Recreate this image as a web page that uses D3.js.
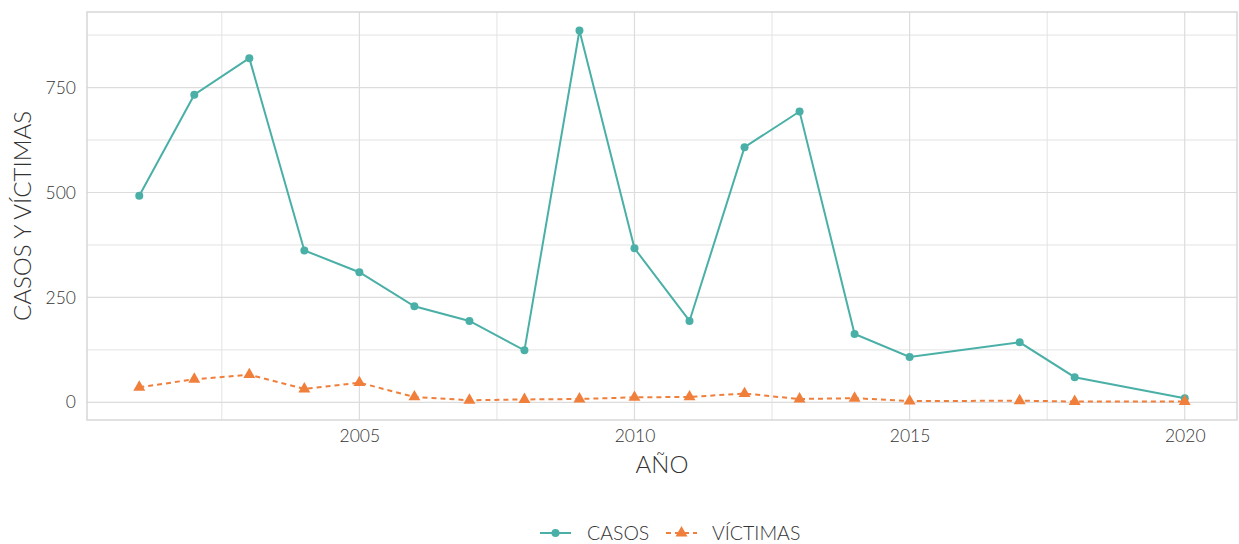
<!DOCTYPE html>
<html>
<head>
<meta charset="utf-8">
<script src="https://cdn.jsdelivr.net/npm/d3@7"></script>
<style>
  body { margin: 0; background: #fff; }
  svg text { font-family: Lato, "Open Sans", sans-serif; font-weight: 300; fill: #333; }
</style>
</head>
<body>
<svg id="chart" width="1239" height="544"></svg>
<script>
var years = [2001, 2002, 2003, 2004, 2005, 2006, 2007, 2008, 2009, 2010, 2011, 2012, 2013, 2014, 2015, 2017, 2018, 2020];
var casos = [492, 733, 820, 362, 310, 229, 194, 124, 886, 367, 194, 608, 693, 163, 108, 143, 60, 10];
var victimas = [36, 55, 66, 32, 47, 13, 5, 7, 8, 12, 13, 21, 8, 10, 3, 4, 2, 2];
var xTicks = [2005, 2010, 2015, 2020];
var yTicks = [0, 250, 500, 750];
var seriesNames = ["CASOS", "VÍCTIMAS"];
var colors = ["#4AB0A7", "#F07F3C"];

var margin = { left: 87, right: 2, top: 12, bottom: 124 };
var W = 1239, H = 544;
var svg = d3.select("#chart");

var x = d3.scaleLinear().domain([2000.05, 2020.95]).range([margin.left, W - margin.right]);
var y = d3.scaleLinear().domain([-42, 930]).range([H - margin.bottom, margin.top]);

var g = svg.append("g");

// minor grid
[2002.5, 2007.5, 2012.5, 2017.5].forEach(function(v) {
  g.append("line").attr("x1", x(v)).attr("x2", x(v))
    .attr("y1", y.range()[1]).attr("y2", y.range()[0])
    .attr("stroke", "#e3e3e3").attr("stroke-width", 1);
});
[125, 375, 625, 875].forEach(function(v) {
  g.append("line").attr("x1", x.range()[0]).attr("x2", x.range()[1])
    .attr("y1", y(v)).attr("y2", y(v))
    .attr("stroke", "#e3e3e3").attr("stroke-width", 1);
});
// major grid
xTicks.forEach(function(v) {
  g.append("line").attr("x1", x(v)).attr("x2", x(v))
    .attr("y1", y.range()[1]).attr("y2", y.range()[0])
    .attr("stroke", "#dcdcdc").attr("stroke-width", 1.2);
});
yTicks.forEach(function(v) {
  g.append("line").attr("x1", x.range()[0]).attr("x2", x.range()[1])
    .attr("y1", y(v)).attr("y2", y(v))
    .attr("stroke", "#dcdcdc").attr("stroke-width", 1.2);
});

// panel border
g.append("rect")
  .attr("x", x.range()[0]).attr("y", y.range()[1])
  .attr("width", x.range()[1] - x.range()[0])
  .attr("height", y.range()[0] - y.range()[1])
  .attr("fill", "none").attr("stroke", "#d4d4d4").attr("stroke-width", 1.4);

// axes labels
var xAxis = d3.axisBottom(x).tickValues(xTicks).tickFormat(d3.format("d")).tickSize(0).tickPadding(10);
var xg = svg.append("g").attr("transform", "translate(0," + y.range()[0] + ")").call(xAxis);
xg.select(".domain").remove();
xg.selectAll("text").style("font-size", "17.5px").attr("fill", "#333");

var yAxis = d3.axisLeft(y).tickValues(yTicks).tickSize(0).tickPadding(11);
var yg = svg.append("g").attr("transform", "translate(" + x.range()[0] + ",0)").call(yAxis);
yg.select(".domain").remove();
yg.selectAll("text").style("font-size", "17.5px").attr("fill", "#333");

svg.append("text")
  .attr("x", (x.range()[0] + x.range()[1]) / 2).attr("y", 473)
  .attr("text-anchor", "middle").style("font-size", "24px")
  .text("AÑO");

svg.append("text")
  .attr("transform", "translate(31," + (y.range()[0] + y.range()[1]) / 2 + ") rotate(-90)")
  .attr("text-anchor", "middle").style("font-size", "24px")
  .text("CASOS Y VÍCTIMAS");

// series
var data1 = years.map(function(d, i) { return [d, casos[i]]; });
var data2 = years.map(function(d, i) { return [d, victimas[i]]; });
var line = d3.line().x(function(d) { return x(d[0]); }).y(function(d) { return y(d[1]); });

svg.append("path").datum(data1).attr("d", line)
  .attr("fill", "none").attr("stroke", colors[0]).attr("stroke-width", 2);
svg.append("path").datum(data2).attr("d", line)
  .attr("fill", "none").attr("stroke", colors[1]).attr("stroke-width", 2)
  .attr("stroke-dasharray", "5,4");

svg.selectAll(".pt1").data(data1).enter().append("circle")
  .attr("cx", function(d) { return x(d[0]); })
  .attr("cy", function(d) { return y(d[1]); })
  .attr("r", 4).attr("fill", colors[0]);

var tri = d3.symbol().type(d3.symbolTriangle).size(62);
svg.selectAll(".pt2").data(data2).enter().append("path")
  .attr("d", tri)
  .attr("transform", function(d) { return "translate(" + x(d[0]) + "," + y(d[1]) + ")"; })
  .attr("fill", colors[1]);

// legend
var lg = svg.append("g").attr("transform", "translate(0,533)");
lg.append("line").attr("x1", 540).attr("x2", 571).attr("y1", 0).attr("y2", 0)
  .attr("stroke", colors[0]).attr("stroke-width", 2);
lg.append("circle").attr("cx", 555.5).attr("cy", 0).attr("r", 4).attr("fill", colors[0]);
lg.append("text").attr("x", 587).attr("y", 7).style("font-size", "19.5px").text(seriesNames[0]);

lg.append("line").attr("x1", 666).attr("x2", 697).attr("y1", 0).attr("y2", 0)
  .attr("stroke", colors[1]).attr("stroke-width", 2).attr("stroke-dasharray", "5,4");
lg.append("path").attr("d", tri).attr("transform", "translate(681.5,0)").attr("fill", colors[1]);
lg.append("text").attr("x", 712).attr("y", 7).style("font-size", "19.5px").text(seriesNames[1]);
</script>
</body>
</html>
